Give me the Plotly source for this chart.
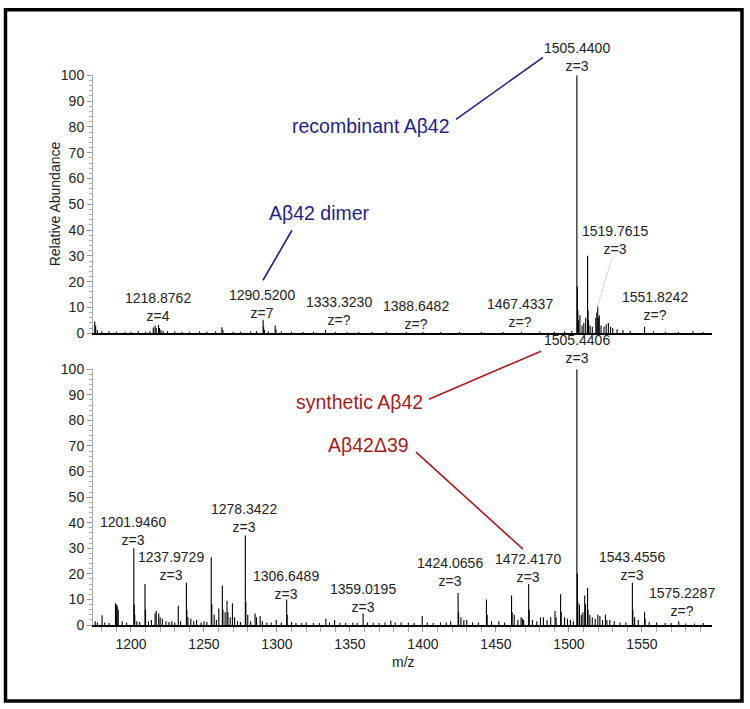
import plotly.graph_objects as go

# ---------------- data ----------------
# recombinant Aβ42 spectrum (top panel): peak m/z and relative abundance
rec_mz = [1175.2, 1175.8, 1177.0, 1180.0, 1185.0, 1190.0, 1196.0, 1200.0, 1205.0, 1210.0,
          1213.0, 1215.3, 1216.5, 1217.3, 1218.9, 1219.6, 1220.5, 1222.0, 1225.0, 1230.0,
          1235.0, 1240.0, 1247.0, 1252.0, 1258.0, 1262.3, 1263.0, 1270.0, 1275.0, 1282.0,
          1286.0, 1290.52, 1290.9, 1291.4, 1294.0, 1298.8, 1299.3, 1303.0, 1310.0, 1318.0,
          1325.0, 1333.3, 1340.0, 1348.0, 1356.0, 1365.0, 1375.0, 1388.6, 1400.0, 1412.0,
          1425.0, 1440.0, 1455.0, 1467.4, 1480.0, 1490.0, 1497.0, 1502.0, 1505.44, 1505.77,
          1506.1, 1506.44, 1507.5, 1509.0, 1510.2, 1511.5, 1512.77, 1513.1, 1513.45, 1514.5,
          1516.0, 1518.4, 1519.1, 1519.76, 1520.1, 1520.8, 1522.0, 1524.0, 1525.5, 1527.0,
          1528.5, 1530.0, 1533.0, 1537.0, 1542.0, 1551.8, 1558.0, 1566.0, 1575.0, 1585.0,
          1592.0]
rec_int = [4.5, 3.0, 1.2, 0.8, 0.7, 0.6, 0.5, 0.6, 0.8, 0.6,
           0.8, 2.2, 3.0, 2.0, 3.2, 2.0, 1.2, 1.0, 0.8, 0.7,
           0.6, 0.6, 0.7, 0.6, 0.7, 2.3, 1.2, 0.6, 0.6, 0.7,
           0.8, 5.2, 2.5, 1.2, 0.8, 3.0, 1.5, 0.7, 0.6, 0.5,
           0.6, 1.2, 0.5, 0.5, 0.5, 0.5, 0.5, 0.6, 0.5, 0.5,
           0.5, 0.5, 0.5, 0.6, 0.6, 0.6, 0.7, 1.0, 100.0, 18.0,
           9.0, 5.0, 7.0, 3.0, 4.0, 6.0, 30.0, 9.0, 5.0, 3.0,
           2.5, 6.0, 8.0, 10.5, 6.0, 7.0, 3.0, 2.5, 3.5, 4.0,
           2.5, 2.0, 1.5, 1.2, 0.9, 2.5, 0.7, 0.6, 0.5, 0.8,
           0.5]

# synthetic Aβ42 spectrum (bottom panel)
syn_mz = [1175.5, 1177.0, 1180.2, 1182.0, 1185.0, 1189.4, 1190.0, 1190.6, 1191.3, 1194.0,
          1197.0, 1201.95, 1202.3, 1202.6, 1204.0, 1206.0, 1209.6, 1210.0, 1212.0, 1214.0,
          1216.5, 1217.3, 1219.0, 1220.0, 1221.5, 1224.0, 1226.0, 1228.0, 1230.0, 1232.4,
          1234.0, 1237.97, 1238.3, 1239.0, 1241.0, 1243.0, 1245.0, 1248.0, 1250.0, 1252.0,
          1255.0, 1255.4, 1257.0, 1258.5, 1260.2, 1262.6, 1263.0, 1264.5, 1265.8, 1266.4,
          1268.0, 1269.5, 1271.0, 1273.0, 1275.0, 1278.34, 1278.7, 1280.0, 1282.0, 1285.0,
          1286.0, 1288.5, 1290.0, 1293.0, 1296.0, 1299.5, 1303.0, 1306.65, 1307.0, 1310.0,
          1313.0, 1317.0, 1320.0, 1325.0, 1329.0, 1333.5, 1336.0, 1339.5, 1343.0, 1347.0,
          1352.0, 1355.0, 1359.02, 1362.0, 1366.0, 1370.0, 1374.0, 1378.0, 1381.0, 1385.0,
          1390.0, 1394.0, 1399.5, 1403.0, 1407.0, 1412.0, 1416.0, 1419.0, 1424.07, 1424.4,
          1426.0, 1428.0, 1430.0, 1434.0, 1438.0, 1443.5, 1444.0, 1447.0, 1452.0, 1456.0,
          1460.7, 1461.1, 1462.5, 1465.0, 1467.2, 1468.2, 1469.0, 1472.42, 1472.8, 1475.0,
          1478.0, 1480.5, 1482.5, 1485.0, 1487.5, 1490.5, 1491.2, 1494.3, 1494.7, 1497.0,
          1499.0, 1501.0, 1503.0, 1505.44, 1505.77, 1506.1, 1507.2, 1508.5, 1509.6, 1510.8,
          1511.4, 1512.77, 1513.1, 1514.3, 1516.0, 1518.0, 1519.8, 1521.2, 1523.0, 1525.0,
          1526.0, 1528.0, 1531.0, 1535.0, 1539.0, 1543.46, 1543.8, 1545.0, 1547.5, 1551.8,
          1552.2, 1555.0, 1560.0, 1566.0, 1570.0, 1575.23, 1580.0, 1586.0, 1592.0]
syn_int = [1.5, 1.0, 3.8, 1.0, 0.8, 8.5, 8.0, 7.5, 6.0, 1.5,
           1.0, 30.0, 8.0, 4.0, 1.5, 1.2, 16.0, 6.0, 1.5, 2.0,
           4.5, 5.5, 4.5, 3.0, 2.5, 1.5, 1.2, 1.5, 1.0, 7.5,
           1.5, 16.5, 6.0, 3.0, 2.5, 1.5, 2.0, 1.0, 1.5, 1.2,
           26.5, 8.0, 4.0, 2.0, 6.5, 15.5, 6.0, 5.0, 9.5, 5.0,
           3.0, 8.5, 3.0, 1.5, 1.2, 35.0, 9.0, 4.0, 1.5, 4.5,
           3.0, 3.5, 1.5, 1.0, 1.0, 2.0, 1.0, 10.0, 4.0, 1.2,
           0.8, 0.8, 1.0, 0.8, 0.8, 2.5, 1.0, 2.0, 0.8, 0.8,
           1.0, 0.8, 4.5, 1.0, 0.8, 0.8, 1.0, 1.8, 1.0, 1.0,
           1.0, 0.8, 3.5, 1.0, 0.8, 1.0, 1.0, 1.5, 12.5, 5.0,
           3.0, 2.0, 2.0, 1.0, 1.0, 10.0, 4.0, 1.5, 1.5, 1.0,
           11.5, 5.0, 4.0, 2.0, 3.0, 2.5, 2.0, 16.0, 6.0, 2.0,
           1.5, 3.0, 3.0, 2.0, 3.0, 5.5, 3.0, 12.0, 5.0, 3.0,
           2.5, 2.0, 1.5, 100.0, 20.0, 9.0, 8.0, 4.0, 5.0, 11.5,
           8.0, 14.5, 6.0, 4.0, 3.0, 2.5, 4.0, 3.5, 2.0, 4.0,
           2.0, 2.0, 1.5, 1.0, 1.0, 16.5, 6.0, 3.0, 2.0, 5.0,
           2.5, 1.2, 1.0, 0.8, 0.8, 1.5, 0.6, 0.6, 0.8]

# peak labels: text, m/z position, label height (relative abundance)
rec_labels = ["1519.7615<br>z=3", "1218.8762<br>z=4", "1290.5200<br>z=7",
              "1333.3230<br>z=?", "1388.6482<br>z=?", "1467.4337<br>z=?", "1551.8242<br>z=?"]
rec_label_x = [1531.5, 1218.2, 1289.8, 1342.5, 1395.2, 1466.8, 1558.9]
rec_label_y = [36.0, 10.0, 11.5, 8.5, 7.0, 7.7, 10.5]

syn_labels = ["1201.9460<br>z=3", "1237.9729<br>z=3", "1278.3422<br>z=3",
              "1306.6489<br>z=3", "1359.0195<br>z=3", "1424.0656<br>z=3", "1472.4170<br>z=3",
              "1543.4556<br>z=3", "1575.2287<br>z=?"]
syn_label_x = [1201.4, 1227.4, 1277.4, 1306.2, 1358.6, 1418.5, 1472.3, 1543.2, 1577.4]
syn_label_y = [36.7, 23.0, 41.8, 15.8, 10.7, 20.9, 22.3, 22.9, 9.2]

# base-peak labels (sit above the 100 % line)
base_labels = ["1505.4400<br>z=3", "1505.4406<br>z=3"]
base_label_mz = [1505.44, 1505.44]
base_label_px = [56, 348]

# species annotations (pixel positions of label centre, leader line ends)
species = ["recombinant Aβ42", "Aβ42 dimer", "synthetic Aβ42", "Aβ42Δ39"]
species_pos = [(371, 125), (319, 212), (359, 401), (368, 444)]
species_lines = [(456, 118, 543, 56), (292, 229, 263, 279),
                 (429, 398, 541, 350), (416, 451, 523, 548)]

X_RANGE = [1174, 1598]
Y_TICKS = [0, 10, 20, 30, 40, 50, 60, 70, 80, 90, 100]
X_TICKS = [1200, 1250, 1300, 1350, 1400, 1450, 1500, 1550]

# ---------------- figure ----------------
W, H = 750, 709
FONT = "Liberation Sans, Arial, Helvetica, sans-serif"
BLUE = "#1f1f8c"
RED = "#a51c1c"
species_colors = [BLUE, BLUE, RED, RED]

# the page is shown slightly squeezed vertically; compensate
Y_OFF, Y_SCALE = 6.6, 0.978


def px_x(p):
    return p / W


def px_y(p):
    return 1 - ((p - Y_OFF) / Y_SCALE) / H


def sticks(mz, inten):
    xs, ys = [], []
    for m, h in zip(mz, inten):
        xs += [m, m, None]
        ys += [0, h, None]
    return xs, ys


fig = go.Figure()
for (mz, inten, xa, ya) in [(rec_mz, rec_int, "x", "y"), (syn_mz, syn_int, "x2", "y2")]:
    xs, ys = sticks(mz, inten)
    fig.add_trace(go.Scatter(x=xs, y=ys, mode="lines", xaxis=xa, yaxis=ya,
                             line=dict(color="black", width=1.1),
                             cliponaxis=False, showlegend=False, hoverinfo="skip"))

x_dom = [px_x(93), px_x(712)]
yaxis_common = dict(range=[0, 100], tickvals=Y_TICKS, ticks="outside", ticklen=5,
                    tickcolor="#999", showline=True, linecolor="#aaa", linewidth=1,
                    showgrid=False, zeroline=False,
                    tickfont=dict(family=FONT, size=14, color="#222"),
                    minor=dict(dtick=2, ticks="outside", ticklen=3, tickcolor="#aaa"))

fig.update_layout(
    width=W, height=H, autosize=False,
    margin=dict(l=0, r=0, t=0, b=0),
    paper_bgcolor="white", plot_bgcolor="white",
    font=dict(family=FONT, size=14, color="#222"),
    xaxis=dict(domain=x_dom, range=X_RANGE, anchor="y", showticklabels=False, ticks="",
               showline=True, linecolor="black", linewidth=1.8, showgrid=False, zeroline=False),
    yaxis=dict(domain=[px_y(332), px_y(74)], anchor="x", **yaxis_common),
    xaxis2=dict(domain=x_dom, range=X_RANGE, anchor="y2", tickvals=X_TICKS, ticks="outside",
                ticklen=5, tickcolor="#999", showline=True, linecolor="black", linewidth=1.8,
                showgrid=False, zeroline=False,
                tickfont=dict(family=FONT, size=14, color="#222"),
                minor=dict(dtick=10, ticks="outside", ticklen=5, tickcolor="#aaa")),
    yaxis2=dict(domain=[px_y(624), px_y(368)], anchor="x2", **yaxis_common),
)

label_font = dict(family=FONT, size=14, color="#222")
annotations = []
for t, x, y in zip(rec_labels, rec_label_x, rec_label_y):
    annotations.append(dict(text=t, x=x, y=y, xref="x", yref="y", showarrow=False,
                            xanchor="center", yanchor="middle", font=label_font))
for t, x, y in zip(syn_labels, syn_label_x, syn_label_y):
    annotations.append(dict(text=t, x=x, y=y, xref="x2", yref="y2", showarrow=False,
                            xanchor="center", yanchor="middle", font=label_font))
for t, x, yp, xr in zip(base_labels, base_label_mz, base_label_px, ["x", "x2"]):
    annotations.append(dict(text=t, x=x, y=px_y(yp), xref=xr, yref="paper", showarrow=False,
                            xanchor="center", yanchor="middle", font=label_font))
for t, (xp, yp), c in zip(species, species_pos, species_colors):
    annotations.append(dict(text=t, x=px_x(xp), y=px_y(yp), xref="paper", yref="paper",
                            showarrow=False, xanchor="center", yanchor="middle",
                            font=dict(family=FONT, size=19.5, color=c)))
# axis titles
annotations.append(dict(text="Relative Abundance", x=px_x(55), y=px_y(203), xref="paper",
                        yref="paper", showarrow=False, textangle=-90,
                        xanchor="center", yanchor="middle",
                        font=dict(family=FONT, size=14, color="#222")))
annotations.append(dict(text="m/z", x=px_x(403), y=px_y(661), xref="paper", yref="paper",
                        showarrow=False, xanchor="center", yanchor="middle",
                        font=dict(family=FONT, size=14, color="#222")))
fig.update_layout(annotations=annotations)

shapes = []
for (x0, y0, x1, y1), c in zip(species_lines, species_colors):
    shapes.append(dict(type="line", x0=px_x(x0), y0=px_y(y0), x1=px_x(x1), y1=px_y(y1),
                       xref="paper", yref="paper", line=dict(color=c, width=1.6)))
# faint leader from the 1519.7615 label
shapes.append(dict(type="line", x0=1529.5, y0=29.1, x1=1519.2, y1=9.7, xref="x", yref="y",
                   line=dict(color="#c8c8c8", width=0.8)))
# outer frame
shapes.append(dict(type="rect", x0=px_x(5.5), x1=px_x(742), y0=px_y(700),
                   y1=min(px_y(6.5), 1 - 1.8 / H),
                   xref="paper", yref="paper", line=dict(color="black", width=3.5),
                   fillcolor="rgba(0,0,0,0)"))
fig.update_layout(shapes=shapes)

fig.write_html(
    "out.html",
    config={"displayModeBar": False},
    post_script="document.body.style.margin='0';"
                "document.documentElement.style.overflow='hidden';"
                "document.body.style.overflow='hidden';",
)
